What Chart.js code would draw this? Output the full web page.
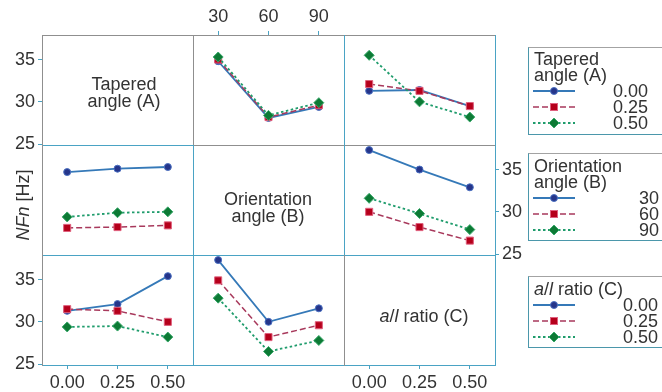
<!DOCTYPE html>
<html>
<head>
<meta charset="utf-8">
<script src="https://cdn.jsdelivr.net/npm/chart.js@4/dist/chart.umd.min.js"></script>
<style>
  body { margin: 0; background: #fff; width: 662px; height: 392px; overflow: hidden; position: relative;
         font-family: "Liberation Sans", Arial, sans-serif; color: #333; }
  canvas { position: absolute; left: 0; top: 0; }
  .ln { position: absolute; }
  .txt { position: absolute; font-size: 18px; line-height: 17px; text-align: center; white-space: nowrap; }
  .box { position: absolute; left: 528px; width: 150px; box-sizing: border-box;
         border: 1px solid #4b97ab; border-top-color: #a3a3a3; }
  .lg { position: absolute; font-size: 18px; line-height: 16px; white-space: nowrap; }
  .ylab { position: absolute; left: 23px; top: 205px; font-size: 18px; white-space: nowrap;
          transform: translate(-50%, -50%) rotate(-90deg); }
</style>
</head>
<body>
<script>
// factor levels
const levelsA = ["0.00", "0.25", "0.50"];   // tapered angle
const levelsB = ["30", "60", "90"];         // orientation angle
const levelsC = ["0.00", "0.25", "0.50"];   // a/l ratio
const yTicks = [25, 30, 35];

// mean NFn [Hz], x = B, one line per A level
const byB_A000 = [34.8, 28.1, 29.4];
const byB_A025 = [35.0, 28.2, 29.6];
const byB_A050 = [35.3, 28.4, 29.9];
// x = C, one line per A level
const byC_A000 = [31.3, 31.4, 29.5];
const byC_A025 = [32.1, 31.3, 29.5];
const byC_A050 = [35.5, 30.0, 28.2];
// x = A, one line per B level
const byA_B30 = [34.7, 35.1, 35.3];
const byA_B60 = [28.1, 28.2, 28.4];
const byA_B90 = [29.4, 29.9, 30.0];
// x = C, one line per B level
const byC_B30 = [37.3, 35.0, 32.9];
const byC_B60 = [30.0, 28.2, 26.6];
const byC_B90 = [31.6, 29.8, 27.9];
// x = A, one line per C level
const byA_C000 = [31.3, 32.1, 35.4];
const byA_C025 = [31.5, 31.3, 30.0];
const byA_C050 = [29.4, 29.5, 28.2];
// x = B, one line per C level
const byB_C000 = [37.3, 30.0, 31.6];
const byB_C025 = [34.9, 28.2, 29.6];
const byB_C050 = [32.8, 26.5, 27.8];

const colX = [42, 193, 344, 495];
const rowY = [35, 145, 255, 365];
const teal = "#4aa3c4";
const grey = "#8f8f8f";
const AX = 34; // room kept for an axis' ticks and labels

const looks = [
  { line: "#3579b8", fill: "#25358a", edge: "#4a6fc0", dash: [], shape: "circle", r: 3.5, w: 1.8 },
  { line: "#a8395c", fill: "#b5001b", edge: "#e0607e", dash: [6, 3], shape: "rect", r: 5, w: 1.5 },
  { line: "#1f9c6c", fill: "#0d7a35", edge: "#38a86a", dash: [2.5, 2.5], shape: "rectRot", r: 5, w: 1.8 }
];

Chart.defaults.font.family = '"Liberation Sans", Arial, sans-serif';
Chart.defaults.font.size = 18;
Chart.defaults.color = "#333";

const panels = [
  { row: 0, col: 1, labels: levelsB, series: [byB_A000, byB_A025, byB_A050], xPos: "top" },
  { row: 0, col: 2, labels: levelsC, series: [byC_A000, byC_A025, byC_A050] },
  { row: 1, col: 0, labels: levelsA, series: [byA_B30, byA_B60, byA_B90] },
  { row: 1, col: 2, labels: levelsC, series: [byC_B30, byC_B60, byC_B90], yPos: "right" },
  { row: 2, col: 0, labels: levelsA, series: [byA_C000, byA_C025, byA_C050], xPos: "bottom", yPos: "left" },
  { row: 2, col: 1, labels: levelsB, series: [byB_C000, byB_C025, byB_C050] },
  // only carry the left y axis of the first row and the bottom x axis of column 3
  { row: 0, col: 0, labels: levelsA, series: [], yPos: "left" },
  { row: 2, col: 2, labels: levelsC, series: [], xPos: "bottom" }
];

function makePanel(p) {
  const cv = document.createElement("canvas");
  cv.width = 662; cv.height = 392;
  document.body.appendChild(cv);
  const x0 = colX[p.col], x1 = colX[p.col + 1], y0 = rowY[p.row], y1 = rowY[p.row + 1];
  const pad = { left: x0, right: 662 - x1, top: y0, bottom: 392 - y1 };
  if (p.yPos) pad[p.yPos] -= AX;
  if (p.xPos) pad[p.xPos] -= Math.min(AX, pad[p.xPos]);
  const xSize = p.xPos ? (p.xPos === "top" ? y0 - pad.top : 392 - y1 - pad.bottom) : 0;
  const tickGrid = { drawOnChartArea: false, color: teal, tickLength: 4, lineWidth: 1 };
  new Chart(cv, {
    type: "line",
    data: {
      labels: p.labels,
      datasets: p.series.map((d, i) => ({
        data: d,
        borderColor: looks[i].line,
        borderWidth: looks[i].w,
        borderDash: looks[i].dash,
        pointStyle: looks[i].shape,
        pointRadius: looks[i].r,
        pointBackgroundColor: looks[i].fill,
        pointBorderColor: looks[i].edge,
        pointBorderWidth: 1,
        order: 3 - i,
        tension: 0,
        clip: false
      }))
    },
    options: {
      responsive: false,
      animation: false,
      devicePixelRatio: 1,
      layout: { padding: pad },
      plugins: { legend: { display: false }, tooltip: { enabled: false } },
      scales: {
        x: {
          type: "category", offset: true,
          position: p.xPos || "bottom", display: !!p.xPos,
          grid: tickGrid, border: { display: false },
          ticks: { padding: 3, maxRotation: 0, autoSkip: false },
          afterFit: s => { s.height = xSize; }
        },
        y: {
          min: 24.9, max: 37.9,
          position: p.yPos || "left", display: !!p.yPos,
          grid: tickGrid, border: { display: false },
          ticks: { padding: 3 },
          afterBuildTicks: s => { s.ticks = yTicks.map(v => ({ value: v })); },
          afterFit: s => { s.width = p.yPos ? AX : 0; }
        }
      }
    }
  });
}
panels.forEach(makePanel);

// panel frame lines
function hline(y, xa, xb, c) {
  const d = document.createElement("div");
  d.className = "ln";
  d.style.cssText = `left:${xa}px;top:${y}px;width:${xb - xa + 1}px;height:1px;background:${c}`;
  document.body.appendChild(d);
}
function vline(x, ya, yb, c) {
  const d = document.createElement("div");
  d.className = "ln";
  d.style.cssText = `left:${x}px;top:${ya}px;width:1px;height:${yb - ya + 1}px;background:${c}`;
  document.body.appendChild(d);
}
const hColors = [[grey, grey, grey], [teal, grey, grey], [teal, teal, teal], [teal, teal, teal]];
const vColors = [[grey, grey, grey], [grey, teal, teal], [teal, teal, grey], [teal, teal, teal]];
hColors.forEach((cs, r) => cs.forEach((c, k) => hline(rowY[r], colX[k], colX[k + 1], c)));
vColors.forEach((cs, k) => cs.forEach((c, r) => vline(colX[k], rowY[r], rowY[r + 1], c)));

// diagonal panel names
function text(html, cx, top, cls) {
  const d = document.createElement("div");
  d.className = cls;
  d.innerHTML = html;
  d.style.left = (cx - 80) + "px";
  d.style.width = "160px";
  d.style.top = top + "px";
  document.body.appendChild(d);
}
text("Tapered<br>angle (A)", 124, 76, "txt");
text("Orientation<br>angle (B)", 268, 191, "txt");
text("<i>a</i>/<i>l</i> ratio (C)", 424, 308, "txt");

const yl = document.createElement("div");
yl.className = "ylab";
yl.innerHTML = "<i>NFn</i> [Hz]";
document.body.appendChild(yl);

// legends
function sample(i) {
  const s = looks[i];
  let mark;
  if (s.shape === "circle") mark = `<circle cx="21" cy="6" r="3.5" fill="${s.fill}" stroke="${s.edge}"/>`;
  else if (s.shape === "rect") mark = `<rect x="17.5" y="2.5" width="7" height="7" fill="${s.fill}" stroke="${s.edge}"/>`;
  else mark = `<polygon points="21,1 26,6 21,11 16,6" fill="${s.fill}" stroke="${s.edge}"/>`;
  return `<svg width="44" height="12" style="position:absolute"><line x1="0" y1="6" x2="42" y2="6" stroke="${s.line}" stroke-width="${s.w}" stroke-dasharray="${s.dash.join(" ")}"/>${mark}</svg>`;
}
function legend(top, height, titleLines, labels, rightEdge, firstBase) {
  const b = document.createElement("div");
  b.className = "box";
  b.style.top = top + "px";
  b.style.height = height + "px";
  document.body.appendChild(b);
  titleLines.forEach((t, k) => {
    const d = document.createElement("div");
    d.className = "lg";
    d.innerHTML = t;
    d.style.left = "534px";
    d.style.top = (firstBase + 16 * k - 14.2) + "px";
    document.body.appendChild(d);
  });
  labels.forEach((t, i) => {
    const base = firstBase + 16 * (titleLines.length + i);
    const sv = document.createElement("div");
    sv.innerHTML = sample(i);
    sv.style.cssText = `position:absolute;left:533px;top:${base - 12}px`;
    document.body.appendChild(sv);
    const d = document.createElement("div");
    d.className = "lg";
    d.textContent = t;
    d.style.right = (662 - rightEdge) + "px";
    d.style.textAlign = "right";
    d.style.top = (base - 14.2) + "px";
    document.body.appendChild(d);
  });
}
legend(47, 88, ["Tapered", "angle (A)"], levelsA, 648, 65);
legend(153, 88, ["Orientation", "angle (B)"], levelsB, 659, 171.7);
legend(276, 72, ["<i>a</i>/<i>l</i> ratio (C)"], levelsC, 658, 295.3);
</script>
</body>
</html>
